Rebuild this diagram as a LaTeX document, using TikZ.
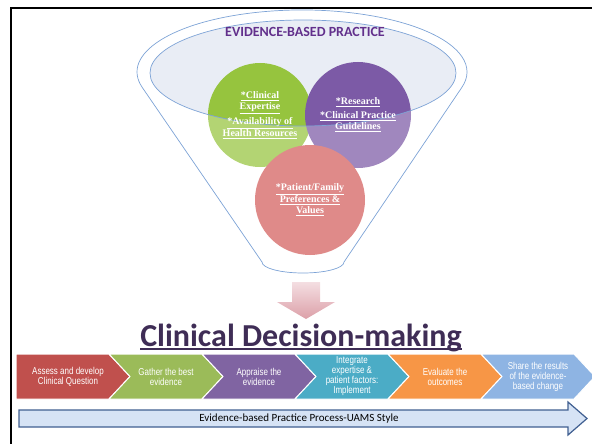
\documentclass[tikz,border=0pt]{standalone}
\usepackage{fontspec}
\setmainfont{Carlito}
\newfontfamily\bookfont{Liberation Serif}
\newfontfamily\narrowfont[FakeStretch=0.8]{Liberation Sans}
\definecolor{funnelblue}{RGB}{125,163,214}
\definecolor{mist}{RGB}{233,237,245}
\definecolor{expgreen}{RGB}{150,196,62}
\definecolor{respurple}{RGB}{124,90,166}
\definecolor{patred}{RGB}{212,94,92}
\definecolor{ebppurple}{RGB}{98,48,140}
\definecolor{cdmpurple}{RGB}{63,45,86}
\definecolor{stepred}{RGB}{192,80,77}
\definecolor{stepgreen}{RGB}{155,187,89}
\definecolor{steppurple}{RGB}{128,100,162}
\definecolor{stepteal}{RGB}{75,172,198}
\definecolor{steporange}{RGB}{247,150,70}
\definecolor{stepblue}{RGB}{142,180,227}
\definecolor{arrowfill}{RGB}{214,227,245}
\definecolor{arrowedge}{RGB}{64,95,145}
\definecolor{pinktop}{RGB}{244,222,226}
\definecolor{pinkbottom}{RGB}{220,160,168}
\tikzset{funnel line/.style={draw=funnelblue, line width=0.7pt},
  bubble/.style={circle, minimum size=104pt, inner sep=0pt},
  bubble text/.style={text=white, font=\bookfont\bfseries\fontsize{10}{11}\selectfont, align=center},
  step text/.style={text=white, font=\narrowfont\fontsize{10}{10}\selectfont, align=center}}

\begin{document}
\begin{tikzpicture}[x=1pt, y=-1pt]
  \useasboundingbox (0,0) rectangle (592,444);
  \draw[line width=2.5pt] (11,444) -- (11,8) -- (592,8);

  \fill[mist] (303,73) ellipse [x radius=153, y radius=53];
  \node[bubble, fill=expgreen] (expertise) at (260,115) {};
  \node[bubble, fill=respurple, minimum size=106pt] (research) at (358,115) {};
  \node[bubble, fill=patred, minimum size=110pt] (patient) at (310,200) {};
  \fill[white, opacity=0.28, even odd rule]
    (142.3,87.5) arc [start angle=165.5, end angle=374.5, x radius=165, y radius=62]
    -- (344,262) arc [start angle=0, end angle=180, x radius=41, y radius=11] -- cycle
    (303,73) ellipse [x radius=153, y radius=53];
  \draw[funnel line] (303,73) ellipse [x radius=153, y radius=53];
  \draw[funnel line]
    (142.3,87.5) arc [start angle=165.5, end angle=374.5, x radius=165, y radius=62]
    -- (344,262) arc [start angle=0, end angle=180, x radius=41, y radius=11] -- cycle;

  \node[text=ebppurple, font=\bfseries\fontsize{14}{16}\selectfont] (ebp) at (305,32) {EVIDENCE-BASED PRACTICE};
  \node[bubble text] at (expertise) {\underline{*Clinical}\\ \underline{Expertise}\\[3pt] \underline{*Availability of}\\ \underline{Health Resources}};
  \node[bubble text] at (research) {\underline{*Research}\\[3pt] \underline{*Clinical Practice}\\ \underline{Guidelines}};
  \node[bubble text] at (patient) {\underline{*Patient/Family}\\ \underline{Preferences \&}\\ \underline{Values}};

  \shade[top color=pinktop, bottom color=pinkbottom]
    (292,282) -- (320,282) -- (320,302) -- (335,302) -- (306,319) -- (277,302) -- (292,302) -- cycle;

  \node[inner sep=0pt, anchor=base, text=cdmpurple, font=\bfseries\fontsize{32}{36}\selectfont] (cdm) at (301,346) {Clinical Decision-making};
  \draw[cdmpurple, line width=2pt] ([yshift=-3pt]cdm.base west) -- ([yshift=-3pt]cdm.base east);

  \foreach \col/\txt [count=\i from 0] in {
      stepred/{Assess and develop\\Clinical Question},
      stepgreen/{Gather the best\\evidence},
      steppurple/{Appraise the\\evidence},
      stepteal/{Integrate\\expertise \&\\patient factors:\\Implement},
      steporange/{Evaluate the\\outcomes},
      stepblue/{Share the results\\of the evidence-\\based change}} {
    \pgfmathsetmacro\xo{16+93*\i}
    \pgfmathsetmacro\notch{\i==0 ? 0 : 21}
    \pgfmathsetmacro\tx{\i==0 ? \xo+52 : \xo+57}
    \fill[\col, draw=white, line width=1pt] (\xo,354) -- ++(93,0) -- ++(21,22.5) -- ++(-21,22.5)
      -- ++(-93,0) -- ++(\notch,-22.5) -- cycle;
    \node[step text] (step\i) at (\tx,376.5) {\txt};
  }

  \draw[draw=arrowedge, fill=arrowfill, line width=1.2pt]
    (19,410) -- (568,410) -- (568,402) -- (587,418.5) -- (568,435) -- (568,427) -- (19,427) -- cycle;
  \node[font=\fontsize{11}{13}\selectfont] (process) at (299,419) {Evidence-based Practice Process-UAMS Style};
\end{tikzpicture}
\end{document}
